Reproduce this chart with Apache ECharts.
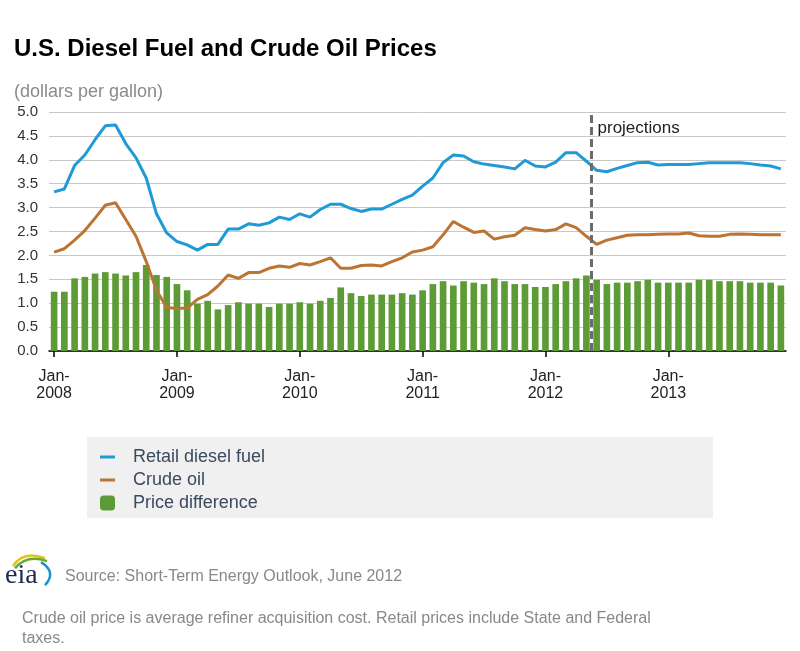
<!DOCTYPE html>
<html><head><meta charset="utf-8">
<script src="https://cdn.jsdelivr.net/npm/echarts@6/dist/echarts.min.js"></script>
<style>html,body{margin:0;padding:0;background:#fff}#chart{width:800px;height:651px}</style>
</head><body><div id="chart"></div>
<script>
// ---- data ----
const monthNames = ['Jan','Feb','Mar','Apr','May','Jun','Jul','Aug','Sep','Oct','Nov','Dec'];
const years = [2008, 2009, 2010, 2011, 2012, 2013];
const categories = [];
years.forEach(y => monthNames.forEach(m => categories.push(m + '-' + y)));

const retailDiesel = [
  3.33, 3.39, 3.88, 4.10, 4.42, 4.71, 4.73, 4.34, 4.04, 3.62, 2.87, 2.47,
  2.29, 2.22, 2.11, 2.23, 2.23, 2.55, 2.55, 2.66, 2.63, 2.68, 2.80, 2.75,
  2.87, 2.80, 2.96, 3.07, 3.07, 2.98, 2.92, 2.97, 2.97, 3.07, 3.17, 3.26,
  3.45, 3.62, 3.94, 4.10, 4.08, 3.96, 3.91, 3.88, 3.85, 3.81, 3.99, 3.87,
  3.85, 3.95, 4.15, 4.15, 3.97, 3.78, 3.75, 3.82, 3.88, 3.94, 3.95, 3.89,
  3.90, 3.90, 3.90, 3.92, 3.94, 3.94, 3.94, 3.94, 3.92, 3.89, 3.87, 3.81
];
const crudeOil = [
  2.07, 2.14, 2.32, 2.52, 2.78, 3.05, 3.10, 2.75, 2.40, 1.87, 1.27, 0.91,
  0.89, 0.90, 1.08, 1.18, 1.36, 1.59, 1.52, 1.64, 1.64, 1.73, 1.78, 1.75,
  1.83, 1.80, 1.87, 1.95, 1.73, 1.73, 1.79, 1.80, 1.78, 1.87, 1.95, 2.07,
  2.11, 2.18, 2.43, 2.71, 2.59, 2.48, 2.51, 2.34, 2.39, 2.42, 2.58, 2.54,
  2.51, 2.54, 2.66, 2.58, 2.40, 2.23, 2.32, 2.37, 2.42, 2.43, 2.43, 2.44,
  2.45, 2.45, 2.47, 2.41, 2.40, 2.40, 2.44, 2.45, 2.44, 2.43, 2.43, 2.43
];
const priceDifference = [
  1.24, 1.24, 1.52, 1.55, 1.62, 1.65, 1.62, 1.58, 1.65, 1.80, 1.59, 1.55,
  1.40, 1.27, 0.99, 1.05, 0.87, 0.96, 1.02, 0.99, 0.99, 0.92, 0.99, 0.99,
  1.02, 0.99, 1.05, 1.11, 1.33, 1.21, 1.15, 1.18, 1.18, 1.18, 1.21, 1.18,
  1.27, 1.40, 1.46, 1.37, 1.46, 1.43, 1.40, 1.52, 1.46, 1.40, 1.40, 1.34,
  1.34, 1.40, 1.46, 1.52, 1.58, 1.49, 1.40, 1.43, 1.43, 1.46, 1.49, 1.43,
  1.43, 1.43, 1.43, 1.49, 1.49, 1.46, 1.46, 1.46, 1.43, 1.43, 1.43, 1.37
];
const projectionStart = 'Jun-2012';
const yMin = 0, yMax = 5, yStep = 0.5;

// ---- chart ----
const FONT = '"Liberation Sans", Arial, sans-serif';
const chart = echarts.init(document.getElementById('chart'), null, {renderer: 'canvas'});
const projIdx = categories.indexOf(projectionStart);
const isJan = (i) => i % 12 === 0;

chart.setOption({
  animation: false,
  textStyle: {fontFamily: FONT},
  title: [
    {text: 'U.S. Diesel Fuel and Crude Oil Prices', left: 14, top: 37, padding: 0,
     textStyle: {fontSize: 24, fontWeight: 'bold', color: '#000', fontFamily: FONT}},
    {text: '(dollars per gallon)', left: 14, top: 83, padding: 0,
     textStyle: {fontSize: 18, fontWeight: 'normal', color: '#8a8a8a', fontFamily: FONT}}
  ],
  grid: {left: 49, right: 14, top: 112, bottom: 300, containLabel: false},
  xAxis: [
    {type: 'category', data: categories, boundaryGap: true,
     axisLine: {show: true, lineStyle: {color: '#000', width: 1.5}},
     axisTick: {show: true, alignWithLabel: true, interval: (i) => isJan(i), length: 6, lineStyle: {color: '#000', width: 1.5}},
     axisLabel: {interval: (i) => isJan(i), fontSize: 16, color: '#222', lineHeight: 17, margin: 17,
                 formatter: (v) => { const p = v.split('-'); return p[0] + '-\n' + p[1]; }},
     splitLine: {show: false}},
    {type: 'value', min: 0, max: categories.length, show: false}
  ],
  yAxis: {type: 'value', min: yMin, max: yMax, interval: yStep,
    axisLine: {show: false}, axisTick: {show: false},
    splitLine: {lineStyle: {color: '#c8c8c8', width: 1}},
    axisLabel: {fontSize: 15, color: '#333', margin: 11, formatter: (v) => v.toFixed(1)}},
  legend: [
    {data: ['Retail diesel fuel', 'Crude oil'], orient: 'vertical', left: 100, top: 448,
     icon: 'rect', symbolKeepAspect: false,
     itemWidth: 15, itemHeight: 3, itemGap: 5, padding: 0,
     textStyle: {fontSize: 18, color: '#3b4a5e', padding: [0, 0, 0, 13]}},
    {data: ['Price difference'], orient: 'vertical', left: 100, top: 494, icon: 'roundRect',
     itemWidth: 15, itemHeight: 15, padding: 0,
     textStyle: {fontSize: 18, color: '#3b4a5e', padding: [0, 0, 0, 13]}}
  ],
  series: [
    {name: 'Price difference', type: 'bar', data: priceDifference, barCategoryGap: '35%',
     itemStyle: {color: '#5c9b35'}, z: 2},
    {name: 'Retail diesel fuel', type: 'line', data: retailDiesel, symbol: 'none',
     lineStyle: {color: '#1f9ad6', width: 3}, itemStyle: {color: '#1f9ad6'}, z: 4},
    {name: 'Crude oil', type: 'line', data: crudeOil, symbol: 'none',
     lineStyle: {color: '#bb7431', width: 3}, itemStyle: {color: '#bb7431'}, z: 4},
    {name: 'projections', type: 'line', xAxisIndex: 1, symbol: 'none', z: 5,
     data: [[projIdx, yMin], [projIdx, yMax]],
     lineStyle: {color: '#6b6b6b', width: 3, type: [8, 4]},
     endLabel: {show: true, formatter: 'projections', fontSize: 17, color: '#222', distance: 6, offset: [0, 16]}}
  ],
  graphic: [
    {type: 'rect', left: 87, top: 437, z: 0, shape: {width: 626, height: 81}, style: {fill: '#f0f0f0'}},
    {type: 'text', left: 65, top: 569, style: {text: 'Source: Short-Term Energy Outlook, June 2012', font: '16px ' + FONT, fill: '#888'}},
    {type: 'text', left: 22, top: 609, style: {text: 'Crude oil price is average refiner acquisition cost. Retail prices include State and Federal\ntaxes.', font: '16px ' + FONT, fill: '#888', lineHeight: 20}},
    {type: 'group', left: 5, top: 553, children: [
      {type: 'bezierCurve', shape: {x1: 8, y1: 18, x2: 40, y2: 10, cpx1: 18, cpy1: 2}, style: {stroke: '#e3c21b', lineWidth: 2.5, fill: null}},
      {type: 'bezierCurve', shape: {x1: 10, y1: 20, x2: 42, y2: 13, cpx1: 22, cpy1: 6}, style: {stroke: '#6aa92f', lineWidth: 2.5, fill: null}},
      {type: 'bezierCurve', shape: {x1: 36, y1: 14, x2: 40, y2: 37, cpx1: 52, cpy1: 24}, style: {stroke: '#1c8fd0', lineWidth: 2.5, fill: null}},
      {type: 'text', x: 0, y: 13, style: {text: 'eia', font: '28px "Liberation Serif", "DejaVu Serif", serif', fill: '#1e2a52'}}
    ]}
  ]
});
</script>
</body></html>
